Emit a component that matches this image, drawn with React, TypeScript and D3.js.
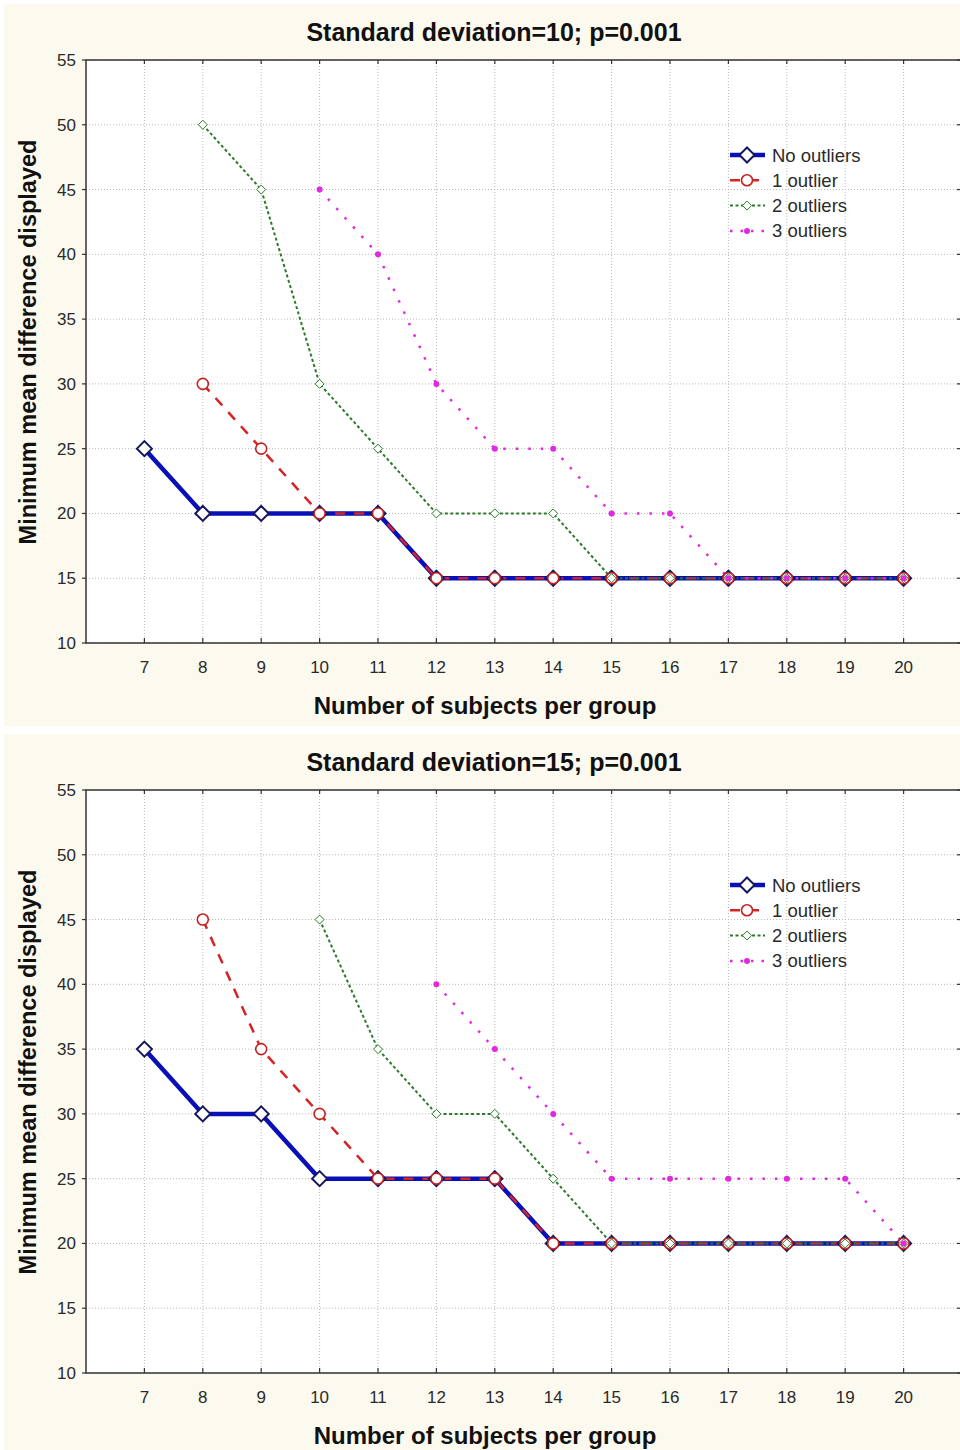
import React from "react";
import * as d3 from "d3";

const xValues = [7, 8, 9, 10, 11, 12, 13, 14, 15, 16, 17, 18, 19, 20];
const yTicks = [10, 15, 20, 25, 30, 35, 40, 45, 50, 55];
const seriesNames = ["No outliers", "1 outlier", "2 outliers", "3 outliers"];

// Panel 1: SD=10
const sd10NoOutliers = [25, 20, 20, 20, 20, 15, 15, 15, 15, 15, 15, 15, 15, 15];
const sd10OneOutlier = [null, 30, 25, 20, 20, 15, 15, 15, 15, 15, 15, 15, 15, 15];
const sd10TwoOutliers = [null, 50, 45, 30, 25, 20, 20, 20, 15, 15, 15, 15, 15, 15];
const sd10ThreeOutliers = [null, null, null, 45, 40, 30, 25, 25, 20, 20, 15, 15, 15, 15];

// Panel 2: SD=15
const sd15NoOutliers = [35, 30, 30, 25, 25, 25, 25, 20, 20, 20, 20, 20, 20, 20];
const sd15OneOutlier = [null, 45, 35, 30, 25, 25, 25, 20, 20, 20, 20, 20, 20, 20];
const sd15TwoOutliers = [null, null, null, 45, 35, 30, 30, 25, 20, 20, 20, 20, 20, 20];
const sd15ThreeOutliers = [null, null, null, null, null, 40, 35, 30, 25, 25, 25, 25, 25, 20];

const panelTitles = ["Standard deviation=10; p=0.001", "Standard deviation=15; p=0.001"];
const xLabel = "Number of subjects per group";
const yLabel = "Minimum mean difference displayed";

const FONT = "'Liberation Sans', Arial, sans-serif";

const styles = [
  { color: "#0a10b8", width: 4.5, dash: "", marker: "bigDiamond" },
  { color: "#d42424", width: 2.5, dash: "10,9", marker: "circle" },
  { color: "#2a7a2a", width: 2, dash: "3,2.5", marker: "smallDiamond" },
  { color: "#e02ae0", width: 2.5, dash: "2.5,10", marker: "dot" },
];

function Marker({ kind, x, y }: { kind: string; x: number; y: number }) {
  if (kind === "bigDiamond") {
    const s = 7.5;
    return (
      <path
        d={`M${x},${y - s}L${x + s},${y}L${x},${y + s}L${x - s},${y}Z`}
        fill="#ffffff"
        stroke="#16165e"
        strokeWidth={2}
      />
    );
  }
  if (kind === "circle") {
    return <circle cx={x} cy={y} r={5.5} fill="#ffffff" stroke="#c42020" strokeWidth={1.6} />;
  }
  if (kind === "smallDiamond") {
    const s = 4.5;
    return (
      <path
        d={`M${x},${y - s}L${x + s},${y}L${x},${y + s}L${x - s},${y}Z`}
        fill="#ffffff"
        stroke="#2a7a2a"
        strokeWidth={1}
      />
    );
  }
  return <circle cx={x} cy={y} r={3} fill="#e02ae0" />;
}

function Panel({ top, title, data }: { top: number; title: string; data: (number | null)[][] }) {
  const left = 86;
  const right = 962;
  const plotTop = top + 60;
  const plotBottom = top + 643;
  const x = d3.scaleLinear().domain([6, 21]).range([left, right]);
  const y = d3.scaleLinear().domain([10, 55]).range([plotBottom, plotTop]);
  const line = d3
    .line<[number, number | null]>()
    .defined((d) => d[1] !== null)
    .x((d) => x(d[0]))
    .y((d) => y(d[1] as number));

  const legendX = 730;
  const legendY = top + 155;
  const legendStep = 25.3;

  return (
    <g>
      <rect x={4} y={top + 4} width={960} height={722} fill="#fcf9ef" />
      <rect x={left} y={plotTop} width={right - left} height={plotBottom - plotTop} fill="#ffffff" />
      {/* grid */}
      {xValues.map((v) => (
        <line
          key={"gx" + v}
          x1={x(v)}
          x2={x(v)}
          y1={plotTop}
          y2={plotBottom}
          stroke="#b8b8b8"
          strokeWidth={1}
          strokeDasharray="1,2"
        />
      ))}
      {yTicks.map((v) => (
        <line
          key={"gy" + v}
          x1={left}
          x2={right}
          y1={y(v)}
          y2={y(v)}
          stroke="#b8b8b8"
          strokeWidth={1}
          strokeDasharray="1,2"
        />
      ))}
      {/* frame */}
      <rect
        x={left}
        y={plotTop}
        width={right - left}
        height={plotBottom - plotTop}
        fill="none"
        stroke="#333"
        strokeWidth={1.5}
      />
      {/* ticks */}
      {xValues.map((v) => (
        <g key={"tx" + v}>
          <line x1={x(v)} x2={x(v)} y1={plotBottom} y2={plotBottom - 5} stroke="#333" strokeWidth={1.2} />
          <line x1={x(v)} x2={x(v)} y1={plotTop} y2={plotTop + 4} stroke="#333" strokeWidth={1.2} />
          <text
            x={x(v)}
            y={plotBottom + 30}
            textAnchor="middle"
            fontFamily={FONT}
            fontSize={17}
            fill="#2a2a2a"
          >
            {v}
          </text>
        </g>
      ))}
      {yTicks.map((v) => (
        <g key={"ty" + v}>
          <line x1={left - 4} x2={left} y1={y(v)} y2={y(v)} stroke="#333" strokeWidth={1.2} />
          <line x1={right - 5} x2={right} y1={y(v)} y2={y(v)} stroke="#333" strokeWidth={1.2} />
          <text
            x={76}
            y={y(v) + 6}
            textAnchor="end"
            fontFamily={FONT}
            fontSize={17}
            fill="#2a2a2a"
          >
            {v}
          </text>
        </g>
      ))}
      {/* series lines */}
      {data.map((vals, i) => {
        const pts = xValues.map((xv, j) => [xv, vals[j]] as [number, number | null]);
        return (
          <path
            key={"l" + i}
            d={line(pts) || ""}
            fill="none"
            stroke={styles[i].color}
            strokeWidth={styles[i].width}
            strokeDasharray={styles[i].dash || undefined}
          />
        );
      })}
      {data.map((vals, i) =>
        xValues.map((xv, j) =>
          vals[j] === null ? null : (
            <Marker key={"m" + i + "-" + j} kind={styles[i].marker} x={x(xv)} y={y(vals[j] as number)} />
          )
        )
      )}
      {/* titles */}
      <text
        x={494}
        y={top + 41}
        textAnchor="middle"
        fontFamily={FONT}
        fontWeight="bold"
        fontSize={25}
        fill="#111"
      >
        {title}
      </text>
      <text
        x={485}
        y={top + 714}
        textAnchor="middle"
        fontFamily={FONT}
        fontWeight="bold"
        fontSize={24}
        fill="#111"
      >
        {xLabel}
      </text>
      <text
        transform={`translate(36,${top + 342}) rotate(-90)`}
        textAnchor="middle"
        fontFamily={FONT}
        fontWeight="bold"
        fontSize={23.5}
        fill="#111"
      >
        {yLabel}
      </text>
      {/* legend */}
      {seriesNames.map((name, i) => {
        const ly = legendY + i * legendStep;
        return (
          <g key={"lg" + i}>
            <line
              x1={legendX}
              x2={legendX + 35}
              y1={ly}
              y2={ly}
              stroke={styles[i].color}
              strokeWidth={styles[i].width}
              strokeDasharray={styles[i].dash ? (i === 3 ? "2.5,8" : styles[i].dash) : undefined}
            />
            <Marker kind={styles[i].marker} x={legendX + 17} y={ly} />
            <text x={legendX + 42} y={ly + 6.5} fontFamily={FONT} fontSize={18.5} fill="#2a2a2a">
              {name}
            </text>
          </g>
        );
      })}
    </g>
  );
}

export default function App() {
  const panel1 = [sd10NoOutliers, sd10OneOutlier, sd10TwoOutliers, sd10ThreeOutliers];
  const panel2 = [sd15NoOutliers, sd15OneOutlier, sd15TwoOutliers, sd15ThreeOutliers];
  return (
    <svg
      width={960}
      height={1450}
      style={{ position: "absolute", left: 0, top: 0, background: "#ffffff" }}
    >
      <Panel top={0} title={panelTitles[0]} data={panel1} />
      <Panel top={730} title={panelTitles[1]} data={panel2} />
    </svg>
  );
}
